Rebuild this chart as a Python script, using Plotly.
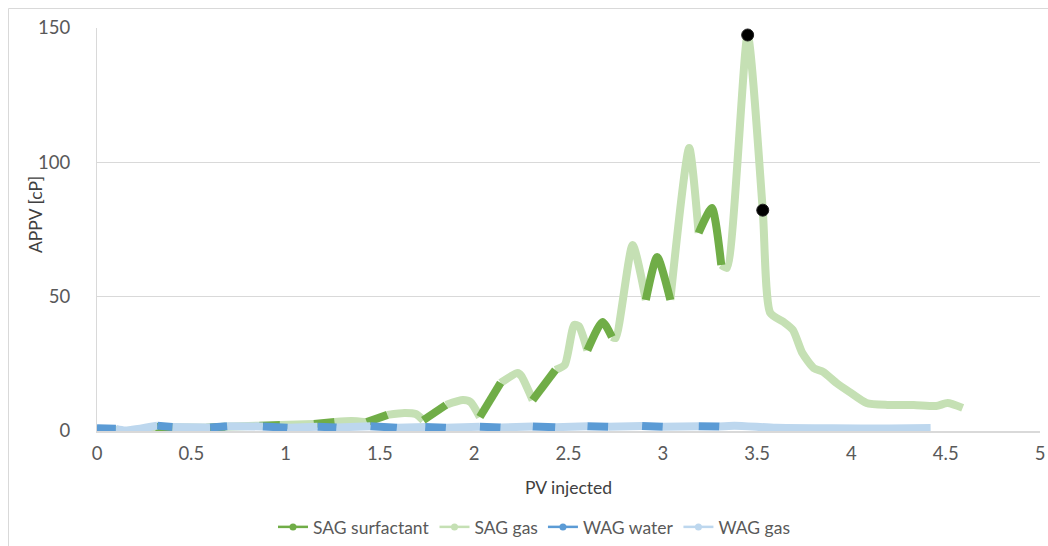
import plotly.graph_objects as go

# ---------------- data ----------------
# SAG: full APPV curve (PV injected, cP); surfactant slugs given as PV intervals
sag_x = [0, 0.08, 0.15, 0.31, 0.40, 0.58, 0.68, 0.86, 0.97, 1.15, 1.26, 1.35, 1.43, 1.54,
         1.63, 1.69, 1.73, 1.85, 1.94, 1.98, 2.03, 2.14, 2.23, 2.25, 2.31, 2.43, 2.48,
         2.53, 2.555, 2.60, 2.68, 2.73, 2.75, 2.84, 2.91, 2.97, 3.04, 3.14, 3.19, 3.26,
         3.31, 3.34, 3.45, 3.53, 3.57, 3.64, 3.69, 3.74, 3.80, 3.85, 3.92, 3.99, 4.08,
         4.19, 4.33, 4.45, 4.51, 4.59]
sag_y = [0.5, 0.6, 0.0, 1.5, 1.4, 1.2, 1.6, 2.0, 2.2, 2.6, 3.4, 3.7, 3.3, 6.0,
         6.7, 6.3, 4.0, 9.7, 11.5, 10.8, 5.2, 17.9, 21.6, 20.5, 11.5, 22.7, 24.6,
         39.5, 39.0, 30.0, 40.6, 35.0, 34.6, 69.2, 48.8, 64.8, 48.8, 105.3, 73.7, 83.0,
         61.8, 60.7, 147.4, 82.2, 43.9, 40.6, 37.6, 29.0, 23.4, 22.0, 17.9, 14.5, 10.4,
         9.7, 9.7, 9.3, 10.4, 8.6]
sag_surfactant_slugs = [(0.0, 0.08), (0.31, 0.40), (0.58, 0.68), (0.86, 0.97), (1.15, 1.26),
                        (1.43, 1.54), (1.73, 1.85), (2.03, 2.14), (2.31, 2.43), (2.60, 2.73),
                        (2.91, 3.04), (3.19, 3.31)]

# WAG: full APPV curve; water slugs as PV intervals
wag_x = [0, 0.10, 0.15, 0.32, 0.40, 0.60, 0.69, 0.88, 1.01, 1.17, 1.27, 1.45, 1.59, 1.74,
         1.85, 2.03, 2.14, 2.31, 2.43, 2.60, 2.71, 2.89, 3.00, 3.19, 3.30, 3.38, 3.60,
         3.90, 4.20, 4.42]
wag_y = [1.0, 0.8, 0.2, 2.0, 1.5, 1.3, 1.8, 1.7, 1.2, 1.6, 1.3, 1.8, 1.2, 1.5,
         1.2, 1.6, 1.3, 1.7, 1.4, 1.8, 1.6, 1.9, 1.6, 1.8, 1.7, 2.0, 1.2,
         1.0, 0.9, 1.1]
wag_water_slugs = [(0.0, 0.10), (0.32, 0.40), (0.60, 0.69), (0.88, 1.01), (1.17, 1.27),
                   (1.45, 1.59), (1.74, 1.85), (2.03, 2.14), (2.31, 2.43), (2.60, 2.71),
                   (2.89, 3.00), (3.19, 3.30)]

# highlighted points
mark_x = [3.45, 3.53]
mark_y = [147.4, 82.2]

x_ticks = [0, 0.5, 1, 1.5, 2, 2.5, 3, 3.5, 4, 4.5, 5]
y_ticks = [0, 50, 100, 150]


def split(xs, ys, slugs):
    """Split a curve into slug / non-slug polylines (None-separated), sharing endpoints."""
    def in_slug(m):
        return any(a < m < b for a, b in slugs)
    out = {True: ([], []), False: ([], [])}
    prev_kind = None
    for i in range(len(xs) - 1):
        kind = in_slug((xs[i] + xs[i + 1]) / 2)
        px, py = out[kind]
        if kind != prev_kind or not px or px[-1] != xs[i]:
            if px:
                px.append(None); py.append(None)
            px.append(xs[i]); py.append(ys[i])
        px.append(xs[i + 1]); py.append(ys[i + 1])
        prev_kind = kind
    return out[True], out[False]


(sag_sx, sag_sy), (sag_gx, sag_gy) = split(sag_x, sag_y, sag_surfactant_slugs)
(wag_wx, wag_wy), (wag_gx, wag_gy) = split(wag_x, wag_y, wag_water_slugs)

C_SURF = "#70AD47"
C_SGAS = "#C5E0B4"
C_WAT = "#5B9BD5"
C_WGAS = "#BDD7EE"

fig = go.Figure()
spl = dict(shape="spline", smoothing=0.6)
LW = 8
fig.add_trace(go.Scatter(x=sag_gx, y=sag_gy, mode="lines", showlegend=False, hoverinfo="skip",
                         line=dict(color=C_SGAS, width=LW, **spl)))
fig.add_trace(go.Scatter(x=sag_sx, y=sag_sy, mode="lines", showlegend=False, hoverinfo="skip",
                         line=dict(color=C_SURF, width=LW, **spl)))
fig.add_trace(go.Scatter(x=wag_gx, y=wag_gy, mode="lines", showlegend=False, hoverinfo="skip",
                         line=dict(color=C_WGAS, width=LW, **spl)))
fig.add_trace(go.Scatter(x=wag_wx, y=wag_wy, mode="lines", showlegend=False, hoverinfo="skip",
                         line=dict(color=C_WAT, width=LW, **spl)))
fig.add_trace(go.Scatter(x=mark_x, y=mark_y, mode="markers", showlegend=False,
                         marker=dict(color="#000000", size=12, line=dict(color="#222", width=1))))

for name, col in [("SAG surfactant", C_SURF), ("SAG gas", C_SGAS),
                  ("WAG water", C_WAT), ("WAG gas", C_WGAS)]:
    fig.add_trace(go.Scatter(x=[None], y=[None], mode="lines+markers", name=name,
                             line=dict(color=col, width=2.5), marker=dict(color=col, size=7)))

W, H = 1048, 546
ML, MR, MT, MB = 97, 8, 28, 115
PW, PH = W - ML - MR, H - MT - MB

font_fam = "Lato, 'Open Sans', sans-serif"
fig.update_layout(
    width=W, height=H,
    margin=dict(l=ML, r=MR, t=MT, b=MB, autoexpand=False),
    paper_bgcolor="white", plot_bgcolor="white",
    font=dict(family=font_fam, size=18.5, color="#595959"),
    xaxis=dict(range=[0, 5], tickvals=x_ticks, ticktext=[f"{v:g}" for v in x_ticks],
               showgrid=False, zeroline=False, showline=True, linecolor="#d9d9d9",
               linewidth=1.5, ticks="", ticklabelstandoff=5, automargin=False,
               ticklabeloverflow="allow",
               title=dict(text="PV injected", font=dict(color="#404040", size=17.5), standoff=19)),
    yaxis=dict(range=[0, 150], tickvals=y_ticks, showgrid=True, gridcolor="#d9d9d9",
               gridwidth=1, zeroline=False, showline=True, linecolor="#d9d9d9",
               ticks="", ticklabelstandoff=22, automargin=False),
    legend=dict(orientation="h", xref="container", yref="container", x=534 / W, y=(H - 527) / H,
                xanchor="center", yanchor="middle", font=dict(size=17.5, color="#595959"),
                itemwidth=30, tracegroupgap=0),
    annotations=[
        dict(text="APPV [cP]", textangle=-90, xref="paper", yref="paper",
             x=(35 - ML) / PW, y=(MT + PH - 215) / PH, xanchor="center", yanchor="middle",
             showarrow=False, font=dict(color="#404040", size=17.5)),
    ],
    shapes=[
        dict(type="line", xref="paper", yref="paper", x0=(8.5 - ML) / PW, x1=(8.5 - ML) / PW,
             y0=-MB / PH, y1=(PH + MT - 8.5) / PH, line=dict(color="#d9d9d9", width=1)),
        dict(type="line", xref="paper", yref="paper", x0=(8.5 - ML) / PW, x1=(W - ML) / PW,
             y0=(PH + MT - 8.5) / PH, y1=(PH + MT - 8.5) / PH, line=dict(color="#d9d9d9", width=1)),
    ],
)

fig.write_html("out.html", config={"displayModeBar": False},
               post_script="document.body.style.margin='0';"
                           "document.body.style.overflow='hidden';")
